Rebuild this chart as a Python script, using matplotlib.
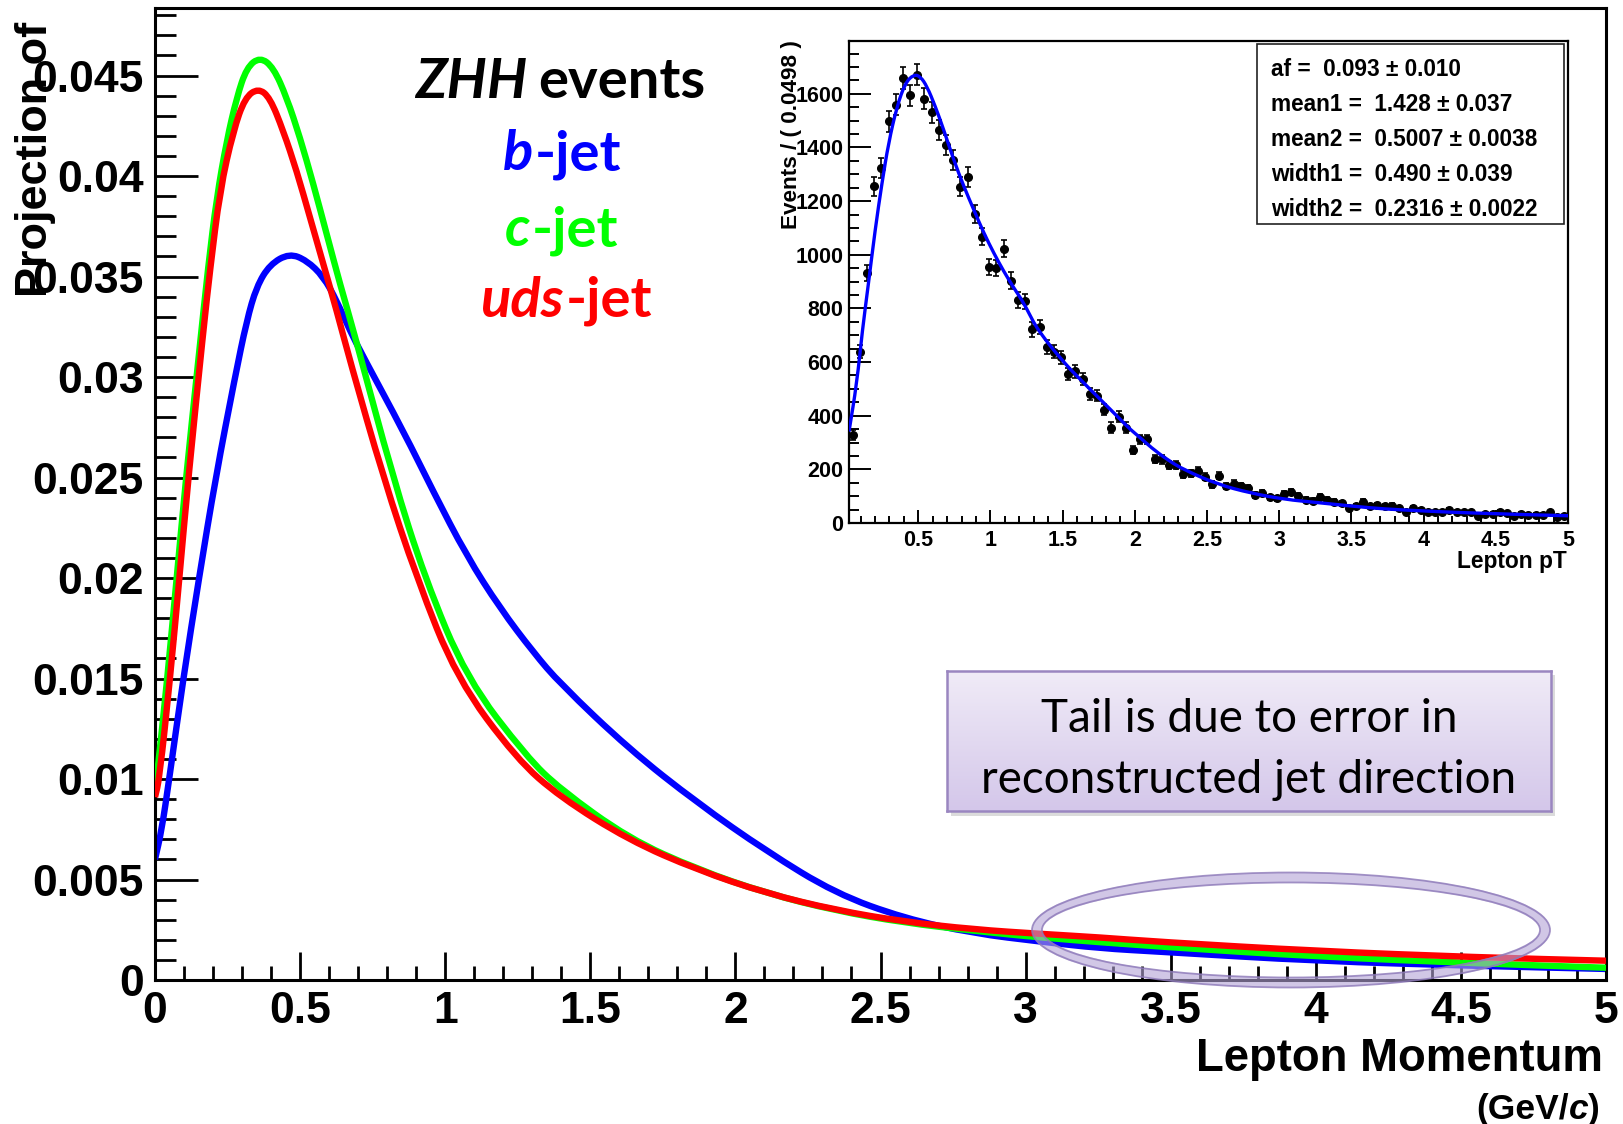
# -*- coding: utf-8 -*-
# Lepton momentum projections for ZHH events, with the fit inset
import numpy as np
import matplotlib.pyplot as plt
from matplotlib.patches import Ellipse, Rectangle, PathPatch
from matplotlib.path import Path
from matplotlib.ticker import MultipleLocator, FuncFormatter


# D A T A ##############################################################################################################
# b-jet curve (blue)
bjet_x = [0.0, 0.023, 0.049, 0.0975, 0.1516, 0.209, 0.2757, 0.316, 0.350, 0.396, 0.463, 0.5227, 0.58, 0.626,
          0.672, 0.718, 0.856, 0.959, 1.074, 1.189, 1.304, 1.396, 1.633, 1.870, 2.108, 2.345, 2.582, 2.82,
          3.057, 3.256, 3.459, 4.007, 4.555, 5.0]
bjet_y = [0.0060, 0.00746, 0.0100, 0.0150, 0.0200, 0.0250, 0.0300, 0.0328, 0.0345, 0.0356, 0.03615, 0.0358,
          0.0350, 0.0338, 0.0323, 0.0310, 0.0273, 0.0243, 0.0211, 0.0185, 0.0163, 0.01475, 0.0115, 0.0088,
          0.0064, 0.00431, 0.00307, 0.00232, 0.0019, 0.00158, 0.00141, 0.00094, 0.00070, 0.00055]

# c-jet curve (green)
cjet_x = [0.0, 0.006, 0.0425, 0.0747, 0.107, 0.149, 0.184, 0.2125, 0.247, 0.2815, 0.316, 0.362, 0.408, 0.454,
          0.4997, 0.5456, 0.5916, 0.6375, 0.69, 0.82, 0.930, 1.074, 1.281, 1.396, 1.633, 1.87, 2.108, 2.345,
          2.582, 2.82, 3.057, 3.459, 4.007, 4.555, 5.0]
cjet_y = [0.0096, 0.0100, 0.0150, 0.0200, 0.0250, 0.0308, 0.0356, 0.0389, 0.04175, 0.0439, 0.0454, 0.04592,
          0.0454, 0.0439, 0.04191, 0.0396, 0.03711, 0.03463, 0.0320, 0.0250, 0.0200, 0.0150, 0.0111, 0.0095,
          0.00704, 0.0055, 0.00431, 0.00345, 0.00285, 0.00245, 0.0021, 0.00166, 0.00116, 0.00083, 0.00061]

# uds-jet curve (red)
udsjet_x = [0.0, 0.015, 0.052, 0.084, 0.115, 0.1665, 0.1895, 0.224, 0.27, 0.31, 0.356, 0.396, 0.442, 0.488,
            0.534, 0.58, 0.626, 0.672, 0.787, 0.902, 1.04, 1.246, 1.396, 1.633, 1.87, 2.108, 2.345, 2.582,
            2.82, 3.057, 3.256, 3.459, 4.007, 4.555, 5.0]
udsjet_y = [0.0091, 0.0100, 0.0150, 0.0200, 0.0250, 0.0323, 0.0353, 0.0393, 0.04225, 0.0439, 0.04437, 0.0439,
            0.04225, 0.04026, 0.03794, 0.03562, 0.0333, 0.0308, 0.0250, 0.0200, 0.0150, 0.0110, 0.0091,
            0.00696, 0.00547, 0.00431, 0.00348, 0.0029, 0.00252, 0.00229, 0.00212, 0.0019, 0.00144, 0.00113,
            0.00096]

# inset histogram : 100 bins of 0.0498 starting at 0.02
inset_lo    = 0.02
inset_bin   = 0.0498
inset_counts = [328, 639, 932, 1255, 1323, 1497, 1560, 1659, 1594, 1672,
                1582, 1532, 1466, 1408, 1352, 1253, 1290, 1152, 1068, 954,
                950, 1022, 904, 832, 826, 722, 730, 656, 639, 618,
                556, 565, 537, 481, 475, 422, 356, 397, 356, 272,
                312, 312, 239, 237, 216, 216, 183, 185, 194, 173,
                144, 177, 139, 147, 138, 129, 104, 113, 96, 92,
                108, 115, 101, 86, 83, 98, 86, 80, 73, 57,
                62, 80, 64, 68, 62, 65, 55, 42, 55, 48,
                42, 40, 40, 48, 42, 40, 40, 26, 32, 34,
                42, 36, 26, 34, 30, 30, 30, 40, 22, 26]

# inset fit curve
fit_x = [0.02, 0.074, 0.113, 0.155, 0.201, 0.248, 0.294, 0.352, 0.410, 0.468, 0.514, 0.560, 0.618, 0.676,
         0.745, 0.815, 0.884, 0.954, 1.023, 1.092, 1.162, 1.231, 1.301, 1.347, 1.417, 1.486, 1.556, 1.625,
         1.694, 1.764, 1.833, 1.903, 1.972, 2.042, 2.111, 2.227, 2.342, 2.574, 2.806, 3.037, 3.269, 3.5,
         3.731, 3.963, 4.194, 4.426, 4.657, 5.0]
fit_y = [341, 521, 720, 894, 1093, 1267, 1417, 1553, 1641, 1672, 1665, 1628, 1553, 1466, 1354, 1255, 1168,
         1081, 1006, 938, 876, 820, 745, 708, 658, 614, 571, 534, 496, 459, 422, 384, 347, 316, 282, 235,
         198, 144, 111, 88, 76, 63, 52, 46, 40, 36, 32, 27]

fit_params = ["af =  0.093 \u00b1 0.010",
              "mean1 =  1.428 \u00b1 0.037",
              "mean2 =  0.5007 \u00b1 0.0038",
              "width1 =  0.490 \u00b1 0.039",
              "width2 =  0.2316 \u00b1 0.0022"]

note_lines = ["Tail is due to error in", "reconstructed jet direction"]


# L A Y O U T ##########################################################################################################
W, H = 1623.0, 1124.0

def fx(px):
  return px / W

def fy(py):
  return 1.0 - py / H

def box(l, t, r, b):
  return [fx(l), fy(b), fx(r) - fx(l), fy(t) - fy(b)]

fmt_g = FuncFormatter(lambda v, p: "%g" % round(v, 6))


#---------------------------------------------------------------------------------------------------------------------
# @brief draw the read points as a smooth line (quadratic segments between mid points)
#---------------------------------------------------------------------------------------------------------------------
def smooth_line(ax, x, y, **kw):
  pts  = np.column_stack([x, y])
  mids = (pts[:-1] + pts[1:]) / 2.0
  verts = [pts[0], mids[0]]
  codes = [Path.MOVETO, Path.LINETO]
  for i in range(1, len(pts) - 1):
    verts += [pts[i], mids[i]]
    codes += [Path.CURVE3, Path.CURVE3]
  verts.append(pts[-1])
  codes.append(Path.LINETO)
  patch = PathPatch(Path(verts, codes), fill=False, capstyle='butt', joinstyle='round', **kw)
  ax.add_patch(patch)
  return patch


#---------------------------------------------------------------------------------------------------------------------
# main plot with the three curves
#---------------------------------------------------------------------------------------------------------------------
def draw_main(fig):
  ax = fig.add_axes(box(155, 8, 1606, 980))
  smooth_line(ax, bjet_x, bjet_y, ec='#0000ff', lw=4.6, zorder=2)
  smooth_line(ax, cjet_x, cjet_y, ec='#00ff00', lw=4.6, zorder=3)
  smooth_line(ax, udsjet_x, udsjet_y, ec='#ff0000', lw=4.6, zorder=4)

  ax.set_xlim(0, 5)
  ax.set_ylim(0, 0.04836)
  ax.xaxis.set_major_locator(MultipleLocator(0.5))
  ax.xaxis.set_minor_locator(MultipleLocator(0.1))
  ax.yaxis.set_major_locator(MultipleLocator(0.005))
  ax.yaxis.set_minor_locator(MultipleLocator(0.001))
  ax.xaxis.set_major_formatter(fmt_g)
  ax.yaxis.set_major_formatter(fmt_g)

  ax.tick_params(axis='both', which='both', direction='in', width=2.0, labelsize=32)
  ax.tick_params(axis='x', which='major', length=20, pad=8)
  ax.tick_params(axis='x', which='minor', length=10)
  ax.tick_params(axis='y', which='major', length=31, pad=8)
  ax.tick_params(axis='y', which='minor', length=15)
  for s in ax.spines.values():
    s.set_linewidth(2.2)

  # axis titles, ROOT style
  fig.text(fx(36), fy(22), "Projection of", rotation=90, ha='center', va='top', fontsize=32.5)
  fig.text(fx(1603), fy(1071), "Lepton Momentum", ha='right', va='baseline', fontsize=32.8)
  t1 = fig.text(fx(1600), fy(1119), ")", ha='right', va='baseline', fontsize=25.5)
  t2 = ax.annotate("c", xy=(0, 0), xycoords=t1, ha='right', va='bottom', fontsize=25.5, style='italic')
  ax.annotate("(GeV/", xy=(0, 0), xycoords=t2, ha='right', va='bottom', fontsize=25.5)

  # legend-like labels
  lab = dict(family=['Lato', 'DejaVu Sans'], fontsize=40.5, fontweight='bold', va='baseline')
  labels = [("ZHH", "events", 'black', 527, 538, 98),
            ("b", "-jet", '#0000ff', 533, 535, 170),
            ("c", "-jet", '#00ff00', 530, 532, 246),
            ("uds", "-jet", '#ff0000', 564, 566, 317)]
  for it, rest, col, xr, xl, yb in labels:
    fig.text(fx(xr), fy(yb), it, ha='right', color=col, style='italic', **lab)
    fig.text(fx(xl), fy(yb), rest, ha='left', color=col, **lab)

  return ax


#---------------------------------------------------------------------------------------------------------------------
# inset with the fitted distribution
#---------------------------------------------------------------------------------------------------------------------
def draw_inset(fig):
  ax = fig.add_axes(box(849, 41, 1568, 523))
  counts = np.array(inset_counts, dtype=float)
  centers = inset_lo + inset_bin * (np.arange(len(counts)) + 0.5)
  ax.errorbar(centers, counts, yerr=np.sqrt(counts), fmt='o', color='black', ms=5.5,
              elinewidth=1.2, capsize=2.2, capthick=1.2, zorder=2)
  smooth_line(ax, fit_x, fit_y, ec='#0000ff', lw=2.4, zorder=3)

  ax.set_xlim(inset_lo, 5.0)
  ax.set_ylim(0, 1797)
  ax.xaxis.set_major_locator(MultipleLocator(0.5))
  ax.xaxis.set_minor_locator(MultipleLocator(0.1))
  ax.yaxis.set_major_locator(MultipleLocator(200))
  ax.yaxis.set_minor_locator(MultipleLocator(50))
  ax.xaxis.set_major_formatter(fmt_g)
  ax.yaxis.set_major_formatter(fmt_g)
  ax.tick_params(axis='both', which='both', direction='in', width=1.4, labelsize=15.5)
  ax.tick_params(axis='x', which='major', length=9.5, pad=5)
  ax.tick_params(axis='x', which='minor', length=5)
  ax.tick_params(axis='y', which='major', length=16, pad=4)
  ax.tick_params(axis='y', which='minor', length=7.5)
  for s in ax.spines.values():
    s.set_linewidth(1.6)

  fig.text(fx(792), fy(40), "Events / ( 0.0498 )", rotation=90, ha='center', va='top', fontsize=16.2)
  fig.text(fx(1567), fy(568), "Lepton pT", ha='right', va='baseline', fontsize=16.4)

  # fit parameters box
  fig.add_artist(Rectangle((fx(1257), fy(224)), fx(1564) - fx(1257), fy(44) - fy(224),
                           transform=fig.transFigure, fc='white', ec='#222222', lw=1.2, zorder=5))
  for i, line in enumerate(fit_params):
    fig.text(fx(1271), fy(75.7 + 35 * i), line, ha='left', va='baseline', fontsize=16.3, zorder=6)


#---------------------------------------------------------------------------------------------------------------------
# annotation box and the ellipse on the tail
#---------------------------------------------------------------------------------------------------------------------
def draw_note(fig):
  # shadow
  fig.add_artist(Rectangle((fx(951), fy(816)), fx(1555) - fx(951), fy(675) - fy(816),
                           transform=fig.transFigure, fc='#999999', ec='none', alpha=0.35, zorder=6))
  nb = fig.add_axes(box(947, 671, 1551, 811), zorder=7)
  top = np.array([240, 235, 247]) / 255.0
  bot = np.array([212, 199, 234]) / 255.0
  t = np.linspace(0, 1, 64)[:, None]
  grad = (top[None, None, :] * (1 - t[:, :, None]) + bot[None, None, :] * t[:, :, None])
  nb.imshow(grad, aspect='auto', extent=(0, 1, 0, 1), origin='upper')
  nb.set_xlim(0, 1)
  nb.set_ylim(0, 1)
  nb.set_xticks([])
  nb.set_yticks([])
  for s in nb.spines.values():
    s.set_color('#9a86c0')
    s.set_linewidth(1.8)
  note = dict(family=['Lato', 'DejaVu Sans'], fontsize=33, fontweight='normal', ha='center', va='baseline')
  nb.text(0.5, (811 - 731.7) / 140.0, note_lines[0], transform=nb.transAxes, **note)
  nb.text(0.5, (811 - 793.0) / 140.0, note_lines[1], transform=nb.transAxes, **note)

  # ring around the tail
  c = (fx(1291), fy(930))
  fig.add_artist(Ellipse(c, 508 / W, 105 / H, transform=fig.transFigure, fill=False,
                         ec=(0.70, 0.64, 0.84), alpha=0.6, lw=7, zorder=8))
  fig.add_artist(Ellipse(c, 518 / W, 115 / H, transform=fig.transFigure, fill=False,
                         ec='#8c78b8', alpha=0.8, lw=1.3, zorder=8))
  fig.add_artist(Ellipse(c, 498 / W, 95 / H, transform=fig.transFigure, fill=False,
                         ec='#8c78b8', alpha=0.8, lw=1.3, zorder=8))


#---------------------------------------------------------------------------------------------------------------------
def main():
  plt.rcParams['font.family'] = ['Liberation Sans', 'DejaVu Sans']
  plt.rcParams['font.weight'] = 'bold'

  fig = plt.figure(figsize=(W / 100.0, H / 100.0), dpi=100)
  draw_main(fig)
  draw_inset(fig)
  draw_note(fig)
  fig.savefig("out.png", dpi=100)


if __name__ == "__main__":
  main()
